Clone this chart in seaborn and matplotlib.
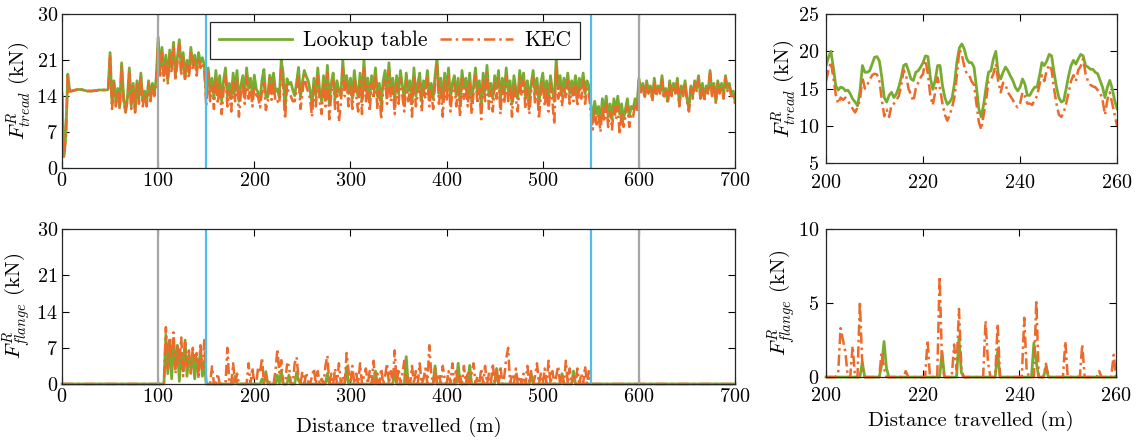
import numpy as np
import seaborn as sns
import matplotlib
matplotlib.use("Agg")
from matplotlib import pyplot as plt

# Tread / flange contact forces (kN), sampled every 2 m from 0 to 700 m.
# Each row below covers 50 m (25 samples); the last row ends with the 700 m value.
lut_tread = [
    14.5, 2.5, 6.5, 18.3, 15.0, 15.0, 15.1, 15.2, 15.3, 15.3, 15.3, 15.2, 15.1, 15.0, 15.0, 15.0, 15.0, 15.1, 15.1, 15.2, 15.2, 15.2, 15.2, 15.2, 15.3,
    22.5, 12.5, 17.0, 13.0, 15.5, 12.0, 20.5, 14.0, 11.0, 13.5, 19.5, 12.0, 16.5, 11.0, 17.0, 13.5, 18.5, 13.0, 15.0, 12.5, 17.0, 14.0, 16.5, 14.5, 17.5,
    25.5, 19.0, 23.5, 18.0, 22.0, 17.0, 23.0, 19.5, 24.5, 18.0, 21.5, 25.0, 19.0, 22.5, 17.5, 21.0, 18.5, 23.5, 20.0, 22.0, 19.0, 22.5, 20.5, 21.5, 20.0,
    14.0, 19.5, 15.0, 17.5, 13.5, 19.0, 14.5, 18.0, 13.0, 17.0, 19.5, 14.0, 16.5, 13.5, 18.5, 15.0, 19.0, 13.0, 16.0, 18.0, 14.5, 19.5, 15.5, 17.5, 14.0,
    18.1, 15.4, 14.7, 13.2, 17.2, 19.2, 13.8, 13.8, 18.1, 16.1, 18.5, 14.9, 15.4, 13.8, 21.0, 18.5, 11.2, 17.4, 16.3, 16.7, 15.2, 14.1, 16.7, 19.6, 13.8,
    16.7, 19.0, 17.9, 17.0, 15.2, 12.3, 17.5, 14.0, 19.5, 15.0, 13.0, 18.0, 14.5, 20.0, 12.5, 16.5, 18.5, 13.5, 17.0, 15.0, 14.0, 21.0, 16.0, 18.0, 14.5,
    17.5, 13.5, 19.0, 15.5, 14.0, 18.5, 13.0, 21.0, 15.0, 17.5, 13.5, 18.0, 15.5, 19.5, 14.0, 16.5, 12.5, 17.0, 19.0, 14.5, 20.5, 15.0, 17.5, 13.0, 18.0,
    14.5, 19.0, 16.0, 13.5, 18.5, 15.0, 17.0, 12.5, 19.5, 14.0, 16.5, 18.5, 13.0, 17.0, 15.5, 19.0, 14.0, 16.5, 13.5, 18.0, 21.5, 14.5, 17.5, 13.0, 18.5,
    15.0, 19.5, 13.5, 16.5, 18.0, 14.0, 17.5, 12.5, 19.0, 15.5, 17.5, 14.0, 18.5, 13.0, 16.0, 19.5, 14.5, 17.0, 12.0, 18.5, 15.0, 20.0, 14.0, 16.5, 13.5,
    18.0, 15.5, 19.0, 13.0, 17.5, 14.5, 19.5, 15.0, 17.0, 12.5, 18.0, 15.5, 13.5, 19.0, 16.0, 18.5, 14.0, 17.0, 13.0, 16.5, 19.0, 14.5, 17.5, 12.5, 16.5,
    18.5, 14.0, 17.0, 13.5, 18.0, 15.0, 13.0, 21.5, 15.5, 18.0, 14.0, 17.5, 15.5, 18.5, 14.5, 17.0, 15.0, 18.0, 14.0, 17.5, 15.5, 18.5, 14.5, 17.0, 16.0,
    12.5, 9.5, 13.0, 10.5, 12.0, 9.0, 13.5, 11.0, 14.0, 10.0, 12.5, 9.5, 13.5, 11.0, 14.0, 10.5, 12.5, 9.5, 11.5, 13.5, 10.0, 12.0, 11.5, 13.5, 12.0,
    17.5, 15.0, 16.5, 14.0, 17.0, 15.0, 16.0, 13.5, 17.5, 14.5, 16.0, 15.0, 18.0, 14.0, 15.5, 13.0, 17.0, 14.5, 16.5, 15.0, 17.5, 12.5, 16.0, 14.5, 17.0,
    13.5, 11.5, 16.0, 14.0, 17.0, 15.5, 18.0, 14.0, 16.5, 13.5, 16.0, 15.0, 19.0, 14.5, 16.5, 13.0, 17.0, 15.0, 16.5, 14.0, 18.0, 15.5, 16.5, 14.5, 15.0,
    13.0,
]
kec_tread = [
    14.0, 2.2, 6.0, 17.8, 14.9, 15.0, 15.1, 15.2, 15.3, 15.3, 15.3, 15.2, 15.1, 15.0, 15.0, 15.0, 15.0, 15.1, 15.1, 15.2, 15.2, 15.2, 15.2, 15.2, 15.3,
    22.0, 11.5, 16.5, 12.0, 15.0, 11.5, 20.0, 13.0, 10.8, 13.0, 19.0, 11.5, 16.0, 10.8, 16.5, 12.5, 18.0, 12.0, 14.5, 12.0, 16.5, 13.0, 16.0, 14.0, 16.5,
    24.5, 18.0, 22.5, 17.0, 21.0, 16.5, 22.0, 18.5, 23.5, 17.0, 20.5, 24.0, 18.0, 21.5, 17.0, 20.0, 17.5, 22.5, 19.0, 21.0, 18.0, 21.5, 19.5, 20.5, 19.0,
    12.0, 18.5, 13.0, 16.0, 11.5, 17.5, 12.5, 16.5, 10.5, 15.0, 18.0, 12.0, 15.0, 11.0, 17.0, 13.0, 17.5, 10.0, 14.5, 16.5, 12.5, 18.0, 13.5, 16.0, 12.0,
    16.0, 14.2, 13.8, 11.8, 15.0, 17.0, 11.3, 13.0, 17.5, 13.3, 17.0, 12.8, 13.0, 12.5, 19.5, 16.0, 9.5, 16.2, 14.5, 14.0, 13.0, 13.0, 15.5, 18.2, 11.5,
    14.5, 18.0, 16.0, 14.8, 13.5, 10.0, 16.0, 12.0, 18.0, 13.0, 10.5, 16.5, 12.0, 18.5, 9.5, 14.5, 17.0, 11.5, 15.5, 9.0, 12.5, 19.5, 14.0, 16.5, 12.0,
    16.0, 11.5, 17.5, 14.0, 11.0, 17.0, 10.5, 19.5, 13.0, 16.0, 11.0, 16.5, 13.5, 18.0, 11.5, 15.0, 9.5, 15.5, 17.5, 12.5, 19.0, 13.0, 16.0, 10.5, 16.5,
    12.5, 17.5, 14.0, 11.0, 17.0, 13.0, 15.5, 10.0, 18.0, 12.0, 14.5, 17.0, 11.0, 15.5, 13.5, 17.5, 12.0, 15.0, 11.5, 16.5, 20.0, 12.5, 16.0, 10.0, 17.0,
    13.0, 18.0, 11.0, 15.0, 16.5, 12.0, 16.0, 10.0, 17.5, 13.5, 16.0, 12.0, 17.0, 10.5, 14.5, 18.0, 12.5, 15.5, 9.5, 17.0, 13.0, 18.5, 11.5, 15.0, 11.0,
    16.5, 13.5, 17.5, 10.5, 16.0, 12.5, 18.0, 13.0, 15.5, 10.0, 16.5, 13.5, 11.0, 17.5, 14.0, 17.0, 11.5, 15.5, 10.5, 15.0, 17.5, 12.5, 16.0, 9.5, 14.5,
    17.0, 12.0, 15.5, 11.0, 16.5, 13.0, 8.5, 20.0, 13.5, 16.5, 12.0, 16.0, 13.5, 17.0, 12.5, 15.5, 13.0, 16.5, 12.0, 16.0, 13.5, 17.0, 12.5, 15.5, 14.5,
    10.5, 7.5, 11.5, 8.5, 10.5, 7.0, 12.0, 9.0, 12.5, 8.0, 11.0, 7.5, 12.0, 9.5, 12.0, 6.5, 11.0, 8.0, 10.0, 12.0, 8.0, 10.5, 10.0, 12.5, 11.0,
    17.0, 14.5, 16.0, 13.5, 16.5, 14.5, 15.5, 13.0, 17.0, 14.0, 15.5, 14.5, 17.5, 13.5, 15.0, 12.5, 16.5, 14.0, 16.0, 14.5, 17.0, 12.0, 15.5, 14.0, 16.5,
    13.0, 11.0, 15.5, 13.5, 16.5, 15.0, 17.5, 13.5, 16.0, 13.0, 15.5, 14.5, 18.5, 14.0, 16.0, 12.5, 16.5, 14.5, 16.0, 13.5, 17.5, 15.0, 16.0, 14.0, 14.5,
    12.5,
]
lut_flange = [
    0, 0, 0, 0, 0, 0, 0, 0, 0, 0, 0, 0, 0, 0, 0, 0, 0, 0, 0, 0, 0, 0, 0, 0, 0,
    0, 0, 0, 0, 0, 0, 0, 0, 0, 0, 0, 0, 0, 0, 0, 0, 0, 0, 0, 0, 0, 0, 0, 0, 0,
    0, 0, 0, 0, 9.5, 2.0, 8.5, 1.0, 8.0, 3.0, 7.5, 0.5, 6.0, 2.5, 8.5, 1.5, 5.5, 3.0, 6.0, 1.0, 5.0, 2.5, 6.5, 1.5, 4.5,
    0, 0, 0, 0, 0, 0, 0, 0, 0, 0, 0, 0, 0, 0, 0, 1.5, 0, 0, 0, 0, 0, 0, 0, 0, 0,
    0, 0, 0, 0, 1.0, 0, 2.4, 0, 0, 0, 0, 0, 1.7, 0, 2.6, 0, 0, 0, 1.7, 0, 0, 0, 2.3, 0.7, 0,
    0, 0, 0, 0, 0, 0, 0, 0, 0, 0, 0, 0, 0, 2.0, 0, 0, 0, 0, 0, 0, 0, 0, 0, 3.3, 0,
    0, 0, 0, 0, 0, 0, 0, 0, 0, 0, 0, 0, 0, 2.5, 0, 0, 0, 0, 0, 0, 0, 0, 0, 2.5, 0,
    0, 0, 0, 0, 5.3, 0, 0, 0, 0, 0, 0, 0, 0, 0, 0, 0, 0, 0, 0, 3.5, 0, 0, 0, 0, 0,
    0, 0, 0, 0, 0, 0, 4.0, 0, 0, 0, 0, 0, 3.6, 0, 0, 0, 0, 0, 0, 0, 0, 0, 0, 0, 0,
    0, 3.0, 0, 0, 0, 0, 0, 0, 0, 0, 0, 0, 0, 0, 0, 0, 0, 0, 0, 2.0, 0, 0, 0, 0, 0,
    0, 0, 0, 0, 0, 0, 0, 0, 0, 0, 2.0, 0, 0, 0, 0, 0, 2.5, 0, 0, 0, 0, 0, 0, 0, 0,
    0, 0, 0, 0, 0, 0, 0, 0, 0, 0, 0, 0, 0, 0, 0, 0, 0, 0, 0, 0, 0, 0, 0, 0, 0,
    0, 0, 0, 0, 0, 0, 0, 0, 0, 0, 0, 0, 0, 0, 0, 0, 0, 0, 0, 0, 0, 0, 0, 0, 0,
    0, 0, 0, 0, 0, 0, 0, 0, 0, 0, 0, 0, 0, 0, 0, 0, 0, 0, 0, 0, 0, 0, 0, 0, 0,
    0,
]
kec_flange = [
    0, 0, 0, 0, 0, 0, 0, 0, 0, 0, 0, 0, 0, 0, 0, 0, 0, 0, 0, 0, 0, 0, 0, 0, 0,
    0, 0, 0, 0, 0, 0, 0, 0, 0, 0, 0, 0, 0, 0, 0, 0, 0, 0, 0, 0, 0, 0, 0, 0, 0,
    0, 0, 0, 0, 11.0, 3.0, 9.0, 5.0, 10.0, 2.0, 7.5, 4.0, 9.0, 1.5, 8.0, 3.5, 6.5, 2.0, 7.0, 4.5, 6.0, 1.0, 7.5, 3.0, 8.5,
    0, 0, 0, 3.4, 0, 0, 2.0, 0, 0, 0, 0, 7.0, 0, 0, 4.0, 0, 2.0, 0, 0, 0, 0, 0, 4.0, 0, 3.2,
    0, 0, 3.3, 2.1, 5.1, 0, 1.7, 0, 0.4, 0, 0, 2.5, 6.8, 2.2, 4.6, 0, 0, 3.8, 3.6, 0, 0, 4.0, 5.2, 0.9, 0,
    2.4, 0, 2.2, 0.4, 0, 1.5, 3.0, 0, 2.5, 0, 1.0, 0, 3.5, 5.5, 0, 2.0, 0, 3.0, 0, 4.0, 0, 1.5, 0, 6.0, 2.5,
    0, 3.5, 0, 2.0, 0, 4.0, 0, 1.5, 3.0, 0, 2.5, 0, 4.5, 0, 2.0, 0, 3.0, 0, 1.5, 4.0, 0, 2.5, 0, 6.5, 0,
    3.0, 0, 2.0, 4.5, 0, 1.5, 0, 3.5, 0, 2.5, 0, 4.0, 0, 1.0, 3.0, 0, 7.5, 2.0, 0, 3.0, 0, 2.0, 0, 3.5, 1.0,
    0, 2.5, 0, 4.0, 0, 3.0, 0, 1.5, 0, 3.5, 0, 2.5, 0, 2.0, 4.0, 0, 1.5, 0, 3.0, 0, 3.5, 0, 2.0, 0, 4.0,
    0, 2.5, 0, 3.5, 0, 1.5, 5.0, 7.0, 0, 2.0, 0, 3.0, 0, 1.5, 0, 2.0, 0, 3.5, 0, 2.5, 0, 1.5, 4.0, 0, 2.0,
    0, 3.0, 0, 4.5, 0, 2.5, 0, 1.5, 3.5, 0, 2.0, 0, 4.5, 0, 3.0, 0, 1.5, 0, 3.0, 0, 2.0, 0, 3.5, 0, 2.5,
    0, 0, 0, 0, 0, 0, 0, 0, 0, 0, 0, 0, 0, 0, 0, 0, 0, 0, 0, 0, 0, 0, 0, 0, 0,
    0, 0, 0, 0, 0, 0, 0, 0, 0, 0, 0, 0, 0, 0, 0, 0, 0, 0, 0, 0, 0, 0, 0, 0, 0,
    0, 0, 0, 0, 0, 0, 0, 0, 0, 0, 0, 0, 0, 0, 0, 0, 0, 0, 0, 0, 0, 0, 0, 0, 0,
    0,
]

# Close-up 200-260 m, sampled every 0.5 m (one row = 10 m)
zoom_lut_tread = [
    18.1, 19.2, 20.0, 17.9, 15.4, 14.8, 15.2, 15.1, 14.7, 14.8, 14.3, 13.6, 13.2, 12.7, 14.7, 18.1, 17.2, 17.2, 17.4, 18.3,
    19.2, 19.3, 18.7, 16.5, 13.8, 13.2, 14.1, 14.5, 13.8, 14.3, 15.2, 16.5, 18.1, 18.3, 17.4, 16.3, 16.1, 17.2, 17.4, 17.9,
    18.5, 19.4, 19.3, 16.5, 14.9, 16.1, 18.1, 18.1, 15.4, 13.8, 12.9, 13.2, 13.8, 15.8, 18.7, 20.5, 21.0, 20.3, 19.0, 18.5,
    18.5, 17.9, 15.2, 12.3, 11.2, 12.9, 15.2, 17.2, 17.4, 19.0, 20.0, 17.0, 16.3, 17.2, 17.9, 17.4, 16.7, 16.1, 15.2, 14.7,
    15.2, 16.3, 15.6, 14.1, 14.1, 14.7, 15.2, 15.2, 16.7, 18.5, 18.1, 18.7, 19.6, 19.4, 17.2, 15.2, 13.8, 13.2, 13.4, 15.0,
    16.7, 18.1, 18.8, 18.3, 19.0, 19.6, 19.4, 18.1, 17.9, 17.6, 17.6, 17.2, 17.0, 16.1, 15.2, 13.8, 15.2, 16.1, 15.0, 13.4,
    12.3,
]
zoom_kec_tread = [
    16.0, 17.5, 18.6, 16.5, 14.2, 13.0, 13.8, 13.5, 13.8, 13.4, 12.8, 12.3, 11.8, 12.5, 13.5, 16.5, 15.0, 15.5, 16.2, 16.8,
    17.0, 16.9, 16.0, 13.5, 11.3, 12.2, 11.2, 12.8, 13.0, 13.5, 14.0, 15.5, 17.5, 16.8, 15.0, 14.2, 13.3, 15.0, 15.8, 16.5,
    17.0, 18.8, 17.0, 14.0, 12.8, 14.5, 16.5, 15.0, 13.0, 11.5, 10.7, 11.5, 12.5, 14.0, 17.0, 20.3, 19.5, 18.0, 17.0, 16.8,
    16.0, 15.5, 13.0, 10.5, 9.5, 11.5, 13.5, 16.0, 16.2, 17.0, 18.3, 16.0, 14.5, 15.8, 15.5, 14.5, 14.0, 13.5, 12.8, 12.5,
    13.0, 14.5, 14.0, 13.0, 13.0, 12.8, 13.5, 14.0, 15.5, 16.8, 16.0, 17.5, 18.2, 17.5, 15.0, 13.0, 11.5, 11.2, 11.8, 13.0,
    14.5, 16.0, 16.8, 16.0, 17.5, 18.0, 19.0, 17.0, 16.0, 15.5, 15.3, 15.2, 14.8, 14.5, 13.5, 11.5, 13.5, 14.5, 13.0, 11.5,
    10.0,
]
zoom_lut_flange = [
    0, 0, 0, 0, 0, 0, 0, 0, 0, 0, 0, 0, 0, 0, 0, 1.0, 0, 0, 0, 0,
    0, 0, 0, 0.8, 2.4, 0.6, 0, 0, 0, 0, 0, 0, 0, 0, 0, 0, 0, 0, 0, 0,
    0, 0, 0, 0, 0, 0, 0, 0, 1.7, 0, 0, 0, 0, 0, 0, 2.6, 0.3, 0, 0, 0,
    0, 0, 0, 0, 0, 0, 0, 0, 0, 0, 0, 1.7, 0, 0, 0, 0, 0, 0, 0, 0,
    0, 0, 0, 0, 0, 0, 2.3, 1.0, 0, 0, 0, 0.7, 0, 0, 0, 0, 0, 0, 0, 0,
    0, 0, 0, 0, 0, 0, 0, 0, 0, 0, 0, 0, 0, 0, 0, 0, 0, 0, 0, 0,
    0,
]
zoom_kec_flange = [
    0, 0, 0, 0, 0, 0.2, 3.3, 2.5, 1.7, 0, 0, 2.1, 0, 0, 5.1, 0.8, 0, 0, 0, 0,
    0, 0, 0, 1.7, 0.6, 0, 0, 0, 0, 0, 0, 0, 0, 0.4, 0, 0, 0, 0, 0, 0,
    0, 0, 2.5, 0, 0, 0, 0, 6.8, 1.0, 0, 0, 0, 0, 2.2, 0.5, 4.6, 0.6, 0, 0, 0,
    0, 0, 0, 0, 0, 0, 3.8, 1.0, 0, 0, 0, 3.6, 0, 0, 0, 0, 0, 0, 0, 0,
    0, 0, 4.0, 0.5, 0, 0, 0, 5.2, 0, 0, 0, 0.9, 0, 0, 0, 0, 0, 0, 0, 2.4,
    0, 0, 0, 0, 0, 0, 2.2, 0, 0, 0, 0, 0, 0, 0.4, 0, 0, 0, 0, 0, 1.5,
    0,
]

# section boundaries (m)
grey_marks = [100, 600]
blue_marks = [150, 550]

GREEN = "#77AC30"
ORANGE = "#EC6A2A"
BLUE = "#4DBEEE"
GREY = "#A6A6A6"
DASHDOT = (0, (4.5, 1.6, 1.0, 1.6))

plt.rcParams["font.family"] = "serif"
plt.rcParams["font.serif"] = ["cmr10"]
plt.rcParams["mathtext.fontset"] = "cm"
plt.rcParams["axes.formatter.use_mathtext"] = True
plt.rcParams["axes.unicode_minus"] = False

fig = plt.figure(figsize=(11.4, 4.41), dpi=100)
ax_tl = fig.add_axes([0.0544, 0.619, 0.5904, 0.3492])
ax_bl = fig.add_axes([0.0544, 0.1293, 0.5904, 0.3515])
ax_tr = fig.add_axes([0.7246, 0.630, 0.2553, 0.338])
ax_br = fig.add_axes([0.7246, 0.145, 0.2544, 0.336])


def draw_pair(ax, x, lut, kec, clip=True, labels=False):
    lut_kw = dict(color=GREEN, lw=2.0, estimator=None, clip_on=clip)
    kec_kw = dict(color=ORANGE, lw=1.8, linestyle=DASHDOT, estimator=None, clip_on=clip)
    if labels:
        lut_kw["label"] = "Lookup table"
        kec_kw["label"] = "KEC"
    sns.lineplot(x=x, y=lut, ax=ax, **lut_kw)
    sns.lineplot(x=x, y=kec, ax=ax, **kec_kw)


dist = np.linspace(0, 700, len(lut_tread))
draw_pair(ax_tl, dist, lut_tread, kec_tread, labels=True)
dist = np.linspace(0, 700, len(lut_flange))
draw_pair(ax_bl, dist, lut_flange, kec_flange, clip=False)

zdist = np.linspace(200, 260, len(zoom_lut_tread))
draw_pair(ax_tr, zdist, zoom_lut_tread, zoom_kec_tread)
zdist = np.linspace(200, 260, len(zoom_lut_flange))
draw_pair(ax_br, zdist, zoom_lut_flange, zoom_kec_flange, clip=False)

for ax in (ax_tl, ax_bl):
    for xm in grey_marks:
        ax.axvline(xm, color=GREY, lw=1.6, zorder=3)
    for xm in blue_marks:
        ax.axvline(xm, color=BLUE, lw=1.6, zorder=3)
    ax.set_xlim(0, 700)
    ax.set_ylim(0, 30)
    ax.set_xticks(np.arange(0, 701, 100))
    ax.set_yticks([0, 7, 14, 21, 30])

ax_tr.set_xlim(200, 260)
ax_tr.set_ylim(5, 25)
ax_tr.set_yticks([5, 10, 15, 20, 25])
ax_br.set_xlim(200, 260)
ax_br.set_ylim(0, 10)
ax_br.set_yticks([0, 5, 10])
for ax in (ax_tr, ax_br):
    ax.set_xticks([200, 220, 240, 260])

tread_label = r"$F^{R}_{tread}$ (kN)"
flange_label = r"$F^{R}_{flange}$ (kN)"
ax_tl.set_ylabel(tread_label, fontsize=15)
ax_bl.set_ylabel(flange_label, fontsize=15)
ax_tr.set_ylabel(tread_label, fontsize=15)
ax_br.set_ylabel(flange_label, fontsize=15)
ax_tl.yaxis.set_label_coords(-0.043, 0.5)
ax_bl.yaxis.set_label_coords(-0.043, 0.5)
ax_tr.yaxis.set_label_coords(-0.098, 0.5)
ax_br.yaxis.set_label_coords(-0.098, 0.5)
ax_bl.set_xlabel("Distance travelled (m)", fontsize=15, labelpad=8)
ax_br.set_xlabel("Distance travelled (m)", fontsize=15, labelpad=4)
ax_tl.set_xlabel("")
ax_tr.set_xlabel("")

for ax in (ax_tl, ax_bl, ax_tr, ax_br):
    ax.tick_params(direction="in", top=True, right=True, length=5, width=0.8,
                   labelsize=14.5, pad=3)
    for sp in ax.spines.values():
        sp.set_linewidth(0.9)
        sp.set_color("#262626")
        sp.set_zorder(5)
    if ax.get_legend() is not None:
        ax.get_legend().remove()

# keep the corner labels of the close-ups apart
for ax in (ax_tr, ax_br):
    ax.tick_params(axis="x", pad=7.5)
    ax.tick_params(axis="y", pad=5)

leg = ax_tl.legend(loc="upper left", bbox_to_anchor=(0.22, 0.948), ncol=2,
                   fontsize=15.5, frameon=True, fancybox=False, edgecolor="#262626",
                   framealpha=1, borderaxespad=0, handlelength=3.4,
                   handletextpad=0.5, columnspacing=0.6, borderpad=0.4)
leg.get_frame().set_linewidth(0.9)
leg.set_zorder(6)

fig.savefig("out.png", dpi=100)
